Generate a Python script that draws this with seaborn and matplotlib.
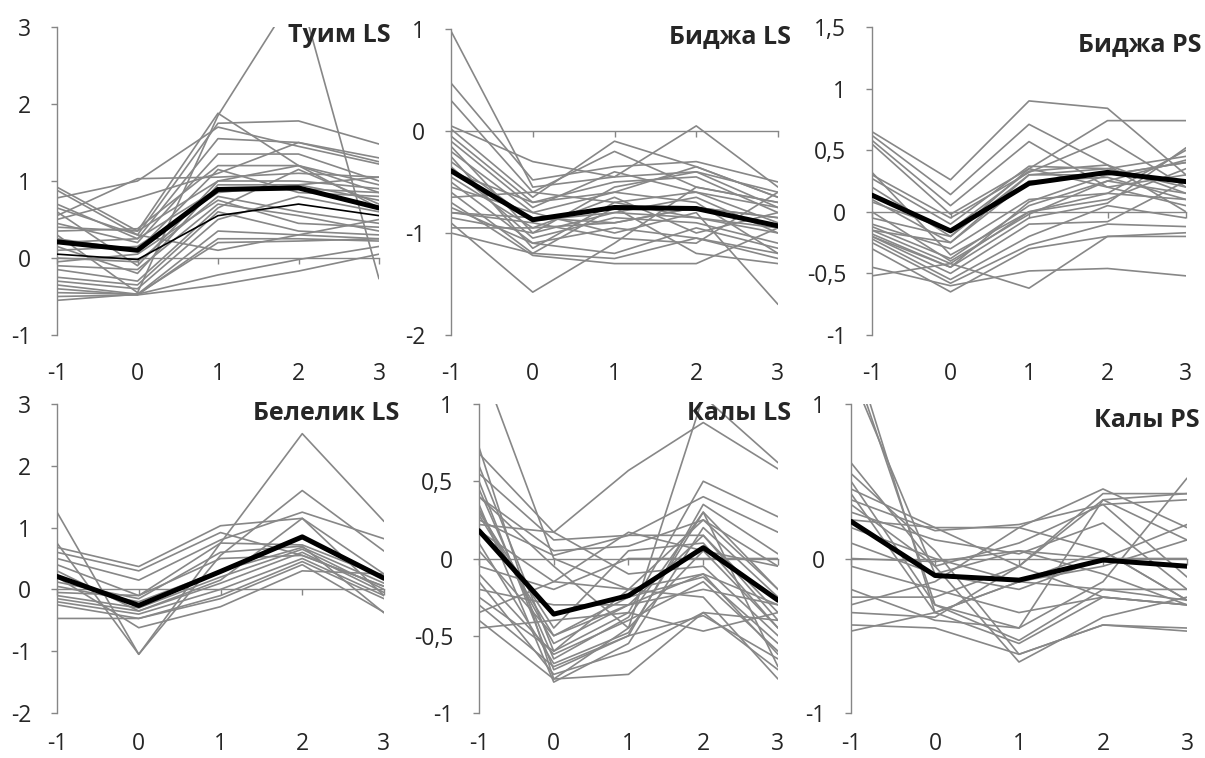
import matplotlib
matplotlib.use("Agg")
import matplotlib.pyplot as plt
import matplotlib.ticker as ticker
import pandas as pd
import seaborn as sns

x_vals = [-1, 0, 1, 2, 3]

# --- Туим LS ---
tuim_ls = [
    [0.30, -0.45, 1.85, 3.50, -0.27],
    [0.92, 0.35, 1.88, 1.20, 0.85],
    [0.88, 0.30, 1.75, 1.78, 1.48],
    [0.78, 1.00, 1.70, 1.45, 1.22],
    [0.55, 1.03, 1.05, 1.10, 1.05],
    [0.50, 0.78, 1.10, 1.50, 1.30],
    [0.70, 0.25, 1.55, 1.50, 1.25],
    [0.45, 0.20, 1.35, 1.35, 1.00],
    [0.35, 0.38, 1.20, 1.20, 0.95],
    [0.25, 0.10, 1.15, 0.85, 0.80],
    [0.60, -0.10, 1.00, 1.00, 0.90],
    [0.15, -0.20, 0.95, 0.95, 0.75],
    [0.00, -0.05, 0.80, 0.60, 0.45],
    [-0.05, 0.05, 0.75, 0.45, 0.40],
    [-0.10, -0.15, 0.70, 0.55, 0.35],
    [-0.15, -0.30, 0.65, 1.15, 0.70],
    [-0.25, -0.35, 0.60, 0.35, 0.30],
    [-0.30, -0.40, 0.50, 0.80, 0.60],
    [-0.35, -0.47, 0.35, 0.30, 0.25],
    [-0.40, -0.48, 0.25, 0.25, 0.22],
    [-0.45, -0.47, -0.22, -0.02, 0.15],
    [-0.50, -0.48, -0.35, -0.17, 0.05],
    [-0.55, -0.47, 0.20, 0.22, 0.25],
    [0.65, 0.30, 0.10, 0.30, 0.50],
    [0.40, 0.35, 1.00, 1.20, 0.65],
    [0.20, 0.25, 0.90, 0.90, 0.85],
    [0.10, 0.15, 0.85, 0.95, 1.05],
]
tuim_ls_thin = [0.05, -0.02, 0.55, 0.70, 0.55]
tuim_ls_mean = [0.21, 0.10, 0.89, 0.91, 0.65]

# --- Биджа LS ---
bidzha_ls = [
    [0.98, -0.55, -0.45, -0.40, -0.60],
    [0.47, -0.48, -0.35, -0.30, -0.50],
    [0.30, -0.60, -0.20, -0.55, -0.70],
    [0.05, -0.30, -0.45, 0.05, -0.55],
    [0.02, -0.65, -0.10, -0.35, -0.65],
    [-0.05, -0.70, -0.50, -0.45, -0.80],
    [-0.10, -0.75, -0.40, -0.60, -0.90],
    [-0.15, -1.00, -0.55, -0.40, -0.75],
    [-0.20, -0.80, -0.60, -0.70, -1.20],
    [-0.25, -1.15, -0.70, -0.85, -0.95],
    [-0.30, -0.88, -0.80, -0.65, -1.00],
    [-0.35, -1.05, -0.85, -0.90, -1.10],
    [-0.45, -0.95, -0.90, -0.75, -0.85],
    [-0.50, -1.10, -0.95, -1.05, -1.25],
    [-0.55, -0.80, -1.00, -0.80, -1.70],
    [-0.60, -1.20, -0.75, -1.20, -1.30],
    [-0.70, -1.22, -1.30, -1.30, -0.95],
    [-0.75, -1.10, -1.20, -0.95, -1.15],
    [-0.80, -0.90, -1.05, -1.10, -0.60],
    [-0.85, -1.00, -0.80, -0.85, -1.00],
    [-0.90, -1.58, -1.10, -0.55, -0.70],
    [-0.95, -0.95, -0.65, -1.00, -0.80],
    [-1.00, -1.20, -1.25, -1.05, -1.20],
    [-0.40, -0.70, -0.60, -0.35, -0.65],
    [-0.80, -0.85, -0.90, -0.75, -0.85],
    [-0.65, -0.60, -0.70, -0.60, -0.75],
]
bidzha_ls_mean = [-0.39, -0.87, -0.75, -0.76, -0.93]

# --- Биджа PS ---
bidzha_ps = [
    [0.65, 0.26, 0.90, 0.84, 0.30],
    [0.62, 0.14, 0.71, 0.38, 0.15],
    [0.58, 0.05, 0.57, 0.20, 0.05],
    [0.55, -0.02, 0.35, 0.74, 0.74],
    [0.30, -0.05, 0.32, 0.59, 0.20],
    [0.27, -0.10, 0.37, 0.35, 0.45],
    [0.20, -0.20, 0.30, 0.30, 0.40],
    [0.10, -0.25, 0.25, 0.28, 0.10],
    [-0.10, -0.30, 0.10, 0.15, 0.50],
    [-0.12, -0.38, 0.05, 0.25, 0.42],
    [-0.15, -0.42, 0.00, 0.10, 0.35],
    [-0.18, -0.45, -0.05, 0.07, 0.52],
    [-0.20, -0.50, -0.10, -0.08, 0.25],
    [-0.22, -0.55, -0.20, 0.05, -0.05],
    [-0.25, -0.58, -0.27, -0.10, -0.12],
    [-0.30, -0.65, -0.30, -0.20, -0.17],
    [-0.45, -0.60, -0.48, -0.46, -0.52],
    [-0.52, -0.42, -0.62, -0.20, -0.20],
    [0.08, -0.15, 0.33, 0.38, 0.00],
    [-0.05, -0.20, 0.35, 0.20, 0.30],
    [0.00, -0.40, -0.02, 0.25, 0.15],
    [-0.15, -0.25, 0.30, 0.35, 0.20],
    [-0.20, -0.45, 0.08, 0.30, 0.40],
    [0.32, -0.35, 0.00, 0.15, 0.10],
]
bidzha_ps_mean = [0.135, -0.155, 0.23, 0.32, 0.245]

# --- Белелик LS ---
belelik_ls = [
    [1.25, -1.05, 0.75, 2.52, 1.10],
    [0.75, -1.05, 0.55, 1.60, 0.62],
    [0.68, 0.37, 1.03, 1.15, 0.25],
    [0.60, 0.30, 0.92, 0.55, 0.05],
    [0.50, 0.15, 0.80, 1.25, 0.82],
    [0.40, -0.10, 0.75, 0.72, 0.20],
    [0.12, -0.15, 0.60, 0.70, -0.38],
    [0.05, -0.20, 0.30, 0.68, 0.10],
    [-0.10, -0.30, 0.20, 0.65, 0.00],
    [-0.15, -0.35, 0.10, 0.60, -0.05],
    [-0.20, -0.40, 0.00, 0.50, -0.10],
    [-0.25, -0.47, -0.10, 0.45, -0.15],
    [-0.47, -0.47, -0.15, 0.40, -0.37],
    [0.20, -0.62, -0.28, 0.30, 0.25],
    [-0.05, -0.10, 0.50, 0.55, 0.05],
    [0.30, -0.35, 0.15, 1.15, -0.10],
]
belelik_ls_mean = [0.21, -0.26, 0.29, 0.85, 0.18]

# --- Калы LS ---
kaly_ls = [
    [1.30, 0.00, -0.20, -0.10, -0.30],
    [0.72, -0.78, -0.45, 1.05, 0.62],
    [0.68, 0.17, 0.57, 0.88, 0.58],
    [0.60, -0.60, -0.35, 0.50, 0.27],
    [0.55, 0.12, 0.15, 0.40, 0.17],
    [0.50, -0.72, -0.50, 0.35, 0.03],
    [0.45, -0.65, -0.38, 0.30, -0.20],
    [0.40, 0.05, 0.08, 0.25, -0.05],
    [0.35, -0.80, -0.55, 0.20, -0.25],
    [0.32, -0.55, -0.30, 0.15, -0.40],
    [0.30, -0.45, 0.05, 0.10, -0.45],
    [0.25, 0.02, 0.15, 0.15, -0.35],
    [0.22, 0.17, -0.10, -0.05, -0.50],
    [0.10, -0.68, -0.48, 0.30, -0.70],
    [0.05, -0.50, -0.25, -0.12, -0.55],
    [-0.05, -0.20, 0.00, 0.00, 0.00],
    [-0.10, -0.62, -0.40, -0.15, -0.60],
    [-0.15, -0.75, -0.60, -0.35, -0.72],
    [-0.20, -0.30, -0.30, -0.20, -0.30],
    [-0.30, -0.70, -0.50, -0.37, -0.65],
    [-0.35, -0.15, -0.20, -0.25, -0.78],
    [-0.40, -0.78, -0.75, -0.35, -0.40],
    [-0.45, -0.40, -0.35, -0.47, -0.35],
    [0.40, -0.05, -0.45, 0.05, -0.45],
    [0.18, -0.15, 0.17, 0.05, -0.05],
    [-0.25, -0.60, -0.20, 0.25, -0.20],
    [0.28, -0.50, -0.30, -0.10, -0.62],
]
kaly_ls_mean = [0.18, -0.36, -0.24, 0.07, -0.27]

# --- Калы PS ---
kaly_ps = [
    [1.40, -0.35, -0.55, -0.25, -0.30],
    [1.30, -0.30, -0.53, -0.20, -0.27],
    [1.20, -0.10, 0.05, -0.10, -0.30],
    [0.62, -0.05, -0.67, -0.38, -0.25],
    [0.55, 0.05, -0.62, -0.43, -0.45],
    [0.50, -0.30, -0.45, 0.38, 0.42],
    [0.45, 0.20, 0.20, 0.45, 0.20],
    [0.38, 0.18, 0.22, 0.35, -0.12],
    [0.35, -0.05, 0.10, 0.35, 0.38],
    [0.30, 0.12, 0.03, 0.23, -0.20],
    [0.20, 0.00, -0.15, -0.05, 0.12],
    [0.10, -0.10, -0.20, 0.00, 0.22],
    [0.00, -0.02, 0.05, 0.00, 0.00],
    [-0.05, -0.20, -0.35, -0.25, -0.30],
    [-0.20, -0.40, -0.45, -0.15, 0.52],
    [-0.25, -0.25, -0.05, 0.42, 0.42],
    [-0.30, -0.15, 0.20, 0.05, -0.27],
    [-0.35, -0.38, -0.05, -0.25, -0.30],
    [-0.43, -0.45, -0.62, -0.43, -0.47],
    [-0.47, -0.35, -0.15, -0.20, -0.20],
    [0.25, 0.20, -0.05, 0.38, 0.12],
    [0.42, -0.35, -0.15, 0.05, -0.27],
]
kaly_ps_mean = [0.24, -0.11, -0.14, -0.01, -0.05]

sns.set_style("white")
plt.rcParams['font.family'] = ['Open Sans', 'DejaVu Sans']
plt.rcParams['axes.unicode_minus'] = False

W, H = 1205, 758
GRAY = '#878787'
AXIS = '#868686'

# lines, mean, title, ylim, yticks, box px (left, right, top, bottom), title anchor px (right, center y), label pad
panels = [
    (tuim_ls, tuim_ls_mean, "Туим LS", (-1, 3), [-1, 0, 1, 2, 3], (57, 379, 27, 335), (391, 36), 19.5),
    (bidzha_ls, bidzha_ls_mean, "Биджа LS", (-2, 1), [-2, -1, 0, 1], (451, 778, 29, 335), (791, 37), 19.5),
    (bidzha_ps, bidzha_ps_mean, "Биджа PS", (-1, 1.5), [-1, -0.5, 0, 0.5, 1, 1.5], (872, 1186, 27, 335), (1201, 45), 19.5),
    (belelik_ls, belelik_ls_mean, "Белелик LS", (-2, 3), [-2, -1, 0, 1, 2, 3], (57, 384, 404, 713), (399, 413), 14),
    (kaly_ls, kaly_ls_mean, "Калы LS", (-1, 1), [-1, -0.5, 0, 0.5, 1], (479, 778, 404, 713), (791, 413), 14),
    (kaly_ps, kaly_ps_mean, "Калы PS", (-1, 1), [-1, 0, 1], (851, 1187, 404, 713), (1200, 420), 14),
]

fig = plt.figure(figsize=(W / 100, H / 100), dpi=100)

for idx, (lines, mean, title, ylim, yticks, box, tpos, lpad) in enumerate(panels):
    l, r, t, b = box
    ax = fig.add_axes([l / W, 1 - b / H, (r - l) / W, (b - t) / H])
    df = pd.DataFrame([(i, xv, yv) for i, row in enumerate(lines) for xv, yv in zip(x_vals, row)],
                      columns=['id', 'x', 'y'])
    sns.lineplot(data=df, x='x', y='y', units='id', estimator=None, color=GRAY,
                 lw=1.2, ax=ax, legend=False)
    if idx == 0:
        sns.lineplot(x=x_vals, y=tuim_ls_thin, color='black', lw=1.2, ax=ax)
    sns.lineplot(x=x_vals, y=mean, color='black', lw=3.6, ax=ax)

    ax.set_xlim(-1, 3)
    ax.set_ylim(*ylim)
    ax.set_xlabel('')
    ax.set_ylabel('')
    ax.set_yticks(yticks)
    ax.yaxis.set_major_formatter(ticker.FuncFormatter(lambda v, p: f"{v:g}".replace('.', ',')))
    ax.set_xticks(x_vals)
    for s in ['top', 'right']:
        ax.spines[s].set_visible(False)
    ax.spines['bottom'].set_position(('data', 0))
    for s in ['left', 'bottom']:
        ax.spines[s].set_color(AXIS)
        ax.spines[s].set_linewidth(1.0)
        ax.spines[s].set_zorder(1)
    ax.tick_params(axis='x', bottom=True, direction='out', length=4.5, width=1.0,
                   color=AXIS, labelbottom=False)
    ax.tick_params(axis='y', left=True, direction='out', length=4.5, width=1.0,
                   color=AXIS, labelsize=16.5, pad=14)

    sec = ax.secondary_xaxis('bottom')
    sec.set_xticks(x_vals)
    sec.tick_params(length=0, labelsize=16.5, pad=lpad)
    sec.spines['bottom'].set_visible(False)

    fig.text(tpos[0] / W, 1 - tpos[1] / H, title, ha='right', va='center',
             fontsize=18, fontweight='bold', zorder=10)

plt.savefig("out.png", dpi=100)
